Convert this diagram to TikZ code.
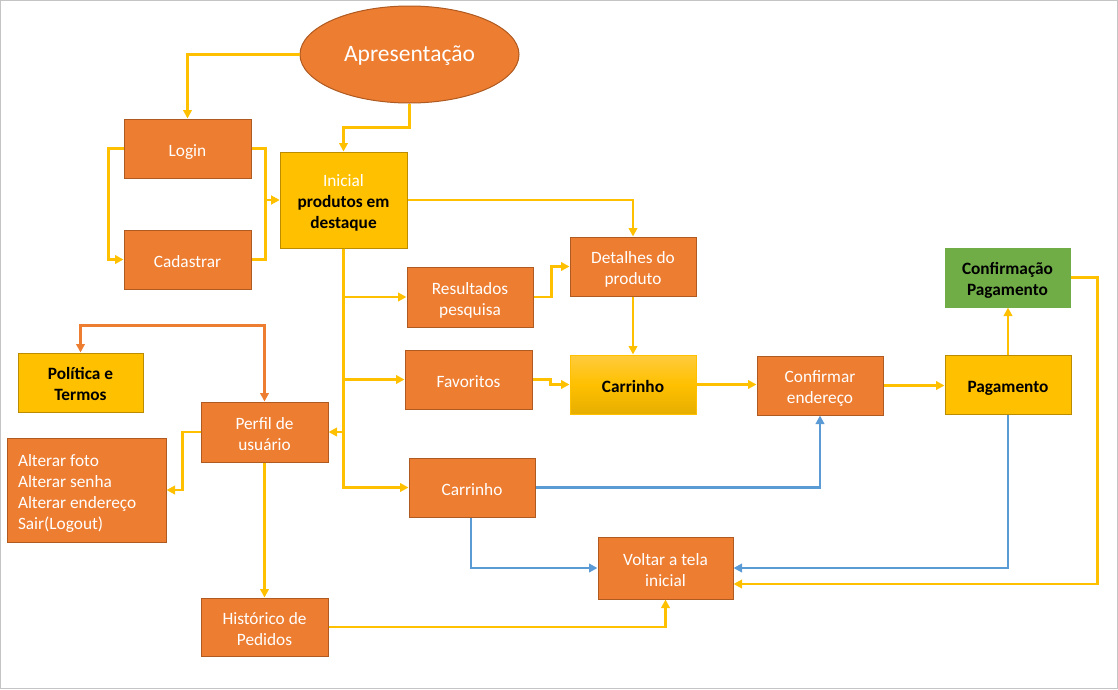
\documentclass[tikz,border=0pt]{standalone}
\usepackage{fontspec}
\setmainfont{Carlito}
\usetikzlibrary{arrows.meta,shapes.geometric}
\definecolor{org}{HTML}{ED7D31}
\definecolor{orgd}{HTML}{AE5A21}
\definecolor{yel}{HTML}{FFC000}
\definecolor{yeld}{HTML}{BC8C00}
\definecolor{yelt}{HTML}{FFCB3D}
\definecolor{yelb}{HTML}{E6AE00}
\definecolor{grn}{HTML}{70AD47}
\definecolor{blu}{HTML}{5B9BD5}
\definecolor{frm}{HTML}{C4C4C4}
\newcommand{\toppost}{\rule{0pt}{1.1em}}
\newcommand{\botpost}{\rule[-0.2em]{0pt}{0pt}}
\newcommand{\etoppost}{\rule{0pt}{0.87em}}
\newcommand{\ebotpost}{\rule[-0.26em]{0pt}{0pt}}
\begin{document}
\begin{tikzpicture}[x=1pt,y=-1pt,
  base/.style={draw, line width=1pt, inner sep=0pt, text width=118pt, align=flush center,
               font=\fontsize{17.3}{21}\selectfont,
               execute at begin node=\toppost, execute at end node=\botpost},
  sz/.style 2 args={minimum width=#1, minimum height=#2},
  obox/.style={base, fill=org, draw=orgd, text=white},
  ybox/.style={base, fill=yel, draw=yeld, text=black, font=\fontsize{17.3}{21}\selectfont\bfseries},
  gbox/.style={base, fill=grn, draw=grn, text=black, font=\fontsize{17.3}{21}\selectfont\bfseries},
  cbox/.style={base, draw=yel, top color=yelt, bottom color=yelb, middle color=yel, text=black, font=\fontsize{17.3}{21}\selectfont\bfseries},
  tip/.tip={Triangle[length=8.5pt,width=8.5pt]},
  ya/.style={draw=yel, line width=2.3pt, -tip},
  ba/.style={draw=blu, line width=2.3pt, -tip},
  oa/.style={draw=org, line width=2.3pt, tip-tip},
]
\useasboundingbox (0,0) rectangle (1118,689);
\draw[frm, line width=1pt] (0.5,0.5) rectangle (1117.5,688.5);

% nodes
\node[ellipse, draw=orgd, fill=org, line width=1pt, text=white, inner sep=0pt,
      minimum width=219, minimum height=97, font=\fontsize{23.5}{28}\selectfont,
      execute at begin node=\etoppost, execute at end node=\ebotpost] (apr) at (409.5,54.5) {Apresentação};
\node[obox, sz={127}{59}] (login) at (187.5,148.5) {Login};
\node[obox, sz={127}{59}] (cad) at (187.5,259.5) {Cadastrar};
\node[ybox, sz={127}{96}] (ini) at (343.5,200) {{\mdseries\color{white}Inicial}\\produtos em\\destaque};
\node[obox, sz={126}{60}] (res) at (470,297) {Resultados\\pesquisa};
\node[obox, sz={126}{59}] (det) at (633,266.5) {Detalhes do\\produto};
\node[obox, sz={127}{59}] (fav) at (468.5,379.5) {Favoritos};
\node[cbox, sz={126}{59}] (car1) at (633,384.5) {Carrinho};
\node[obox, sz={126}{59}] (conf) at (820,385.5) {Confirmar\\endereço};
\node[ybox, sz={126}{59}] (pag) at (1008,384.5) {Pagamento};
\node[gbox, sz={125}{59}] (cpag) at (1007.5,277.5) {Confirmação\\Pagamento};
\node[obox, sz={126}{59}] (car2) at (472,487.5) {Carrinho};
\node[obox, sz={135}{62}] (volt) at (665.5,568) {Voltar a tela\\inicial};
\node[ybox, sz={125}{59}] (pol) at (80.5,382.5) {Política e\\Termos};
\node[obox, sz={127}{60}] (perf) at (264.5,432) {Perfil de\\usuário};
\node[obox, sz={159}{104}, text width=137pt, inner xsep=11pt, align=flush left] (alt) at (86.5,490)
  {Alterar foto\\Alterar senha\\Alterar endereço\\Sair(Logout)};
\node[obox, sz={127}{58}] (hist) at (264.5,627) {Histórico de\\Pedidos};

% connectors
\draw[ya] (apr.west) -| (login.north);
\draw[ya] (apr.south) -- ++(0,24) -| (ini.north);
\draw[ya] (login.west) -- ++(-15,0) |- (cad.west);
\draw[ya] (login.east) -- ++(14,0) |- (ini.west);
\draw[ya] (cad.east) -- ++(14,0) |- (ini.west);
\draw[ya] (ini.east) -| (det.north);
\draw[ya] (ini.south) |- (res.west);
\draw[ya] (ini.south) |- (fav.west);
\draw[ya] (ini.south) |- (perf.east);
\draw[ya] (ini.south) |- (car2.west);
\draw[ya] (res.east) -- ++(18,0) |- (det.west);
\draw[ya] (fav.east) -- ++(18,0) |- (car1.west);
\draw[ya] (det.south) -- (car1.north);
\draw[ya] (car1.east) -- (car1.east -| conf.west);
\draw[ya] (conf.east) -- (conf.east -| pag.west);
\draw[ya] (pag.north) -- (pag.north |- cpag.south);
\draw[ya] (cpag.east) -- ++(27,0) |- ([yshift=-16pt]volt.east);
\draw[ba] (pag.south) |- (volt.east);
\draw[ba] (car2.east) -| (conf.south);
\draw[ba] ([xshift=-1pt]car2.south) |- (volt.west);
\draw[ya] (hist.east) -| (volt.south);
\draw[ya] (perf.south) -- (hist.north);
\draw[ya] (perf.west) -- ++(-18,0) |- (alt.east);
\draw[oa] (pol.north) -- ++(0,-27) -| (perf.north);
\end{tikzpicture}
\end{document}
